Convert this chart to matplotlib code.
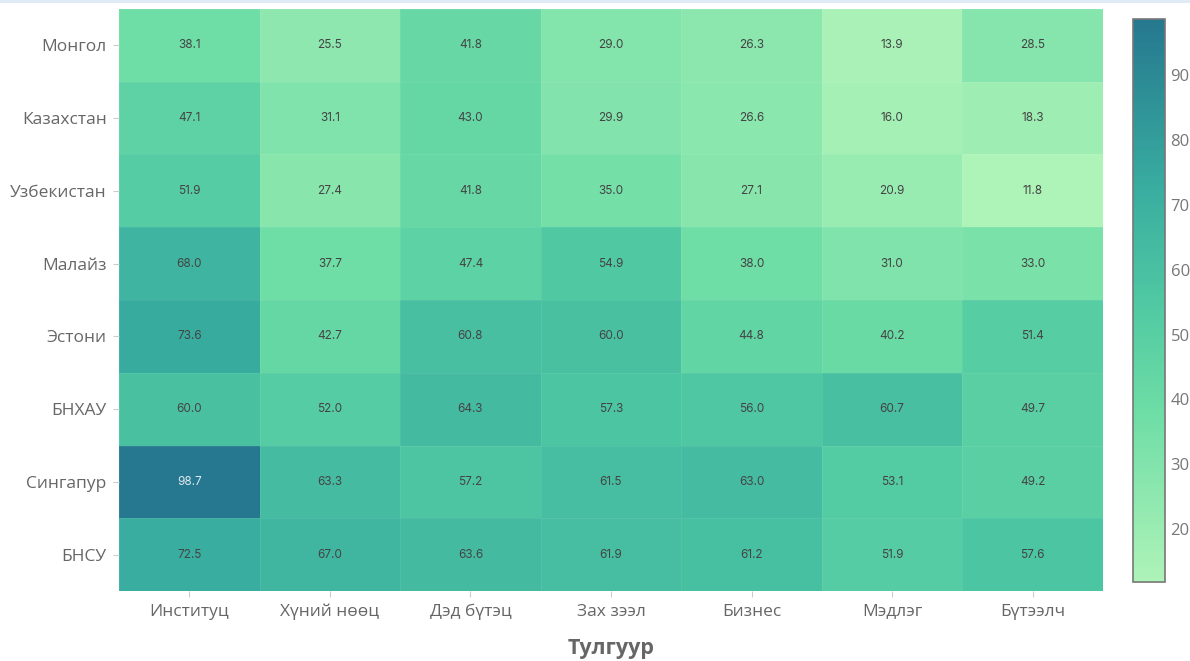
import numpy as np
import matplotlib
matplotlib.use("Agg")
import matplotlib.pyplot as plt
from matplotlib.colors import LinearSegmentedColormap
from matplotlib.lines import Line2D

# өгөгдөл
countries = ["Монгол", "Казахстан", "Узбекистан", "Малайз", "Эстони", "БНХАУ", "Сингапур", "БНСУ"]
pillars = ["Институц", "Хүний нөөц", "Дэд бүтэц", "Зах зээл", "Бизнес", "Мэдлэг", "Бүтээлч"]

mongol = [38.1, 25.5, 41.8, 29.0, 26.3, 13.9, 28.5]
kazakh = [47.1, 31.1, 43.0, 29.9, 26.6, 16.0, 18.3]
uzbek = [51.9, 27.4, 41.8, 35.0, 27.1, 20.9, 11.8]
malay = [68.0, 37.7, 47.4, 54.9, 38.0, 31.0, 33.0]
eston = [73.6, 42.7, 60.8, 60.0, 44.8, 40.2, 51.4]
china = [60.0, 52.0, 64.3, 57.3, 56.0, 60.7, 49.7]
singa = [98.7, 63.3, 57.2, 61.5, 63.0, 53.1, 49.2]
korea = [72.5, 67.0, 63.6, 61.9, 61.2, 51.9, 57.6]

data = np.array([mongol, kazakh, uzbek, malay, eston, china, singa, korea])

cmap = LinearSegmentedColormap.from_list(
    "grn", [(0.0, "#aef3b8"), (0.3, "#6edda6"), (0.5, "#4fc8a2"),
            (0.7, "#39ada0"), (1.0, "#25788f")])

plt.rcParams['font.family'] = ['Open Sans', 'DejaVu Sans']
fig = plt.figure(figsize=(11.9, 6.61), dpi=100)
ax = fig.add_axes([119/1190, 1 - 591/661, (1103-119)/1190, (591-9)/661])
cax = fig.add_axes([1133/1190, 1 - 582/661, 32/1190, (582-19)/661])

vmin, vmax = data.min(), data.max()
mesh = ax.pcolormesh(data, cmap=cmap, vmin=vmin, vmax=vmax,
                     edgecolors=(1, 1, 1, 0.07), linewidth=0.6)
ax.set_xlim(0, len(pillars))
ax.set_ylim(len(countries), 0)

# тоон утгууд
for i in range(len(countries)):
    for j in range(len(pillars)):
        v = data[i, j]
        c = "#dfe8ee" if v > 85 else "#444444"
        ax.text(j + 0.5, i + 0.5, f"{v:.1f}", ha="center", va="center",
                fontsize=8.5, color=c, family=["Inter", "DejaVu Sans"])

ax.set_xticks(np.arange(len(pillars)) + 0.5)
ax.set_xticklabels(pillars, fontsize=12.5, color="#666666")
ax.set_yticks(np.arange(len(countries)) + 0.5)
ax.set_yticklabels(countries, fontsize=12.5, color="#666666")
ax.tick_params(length=4, width=0.8, color="#cccccc", pad=5)
for s in ax.spines.values():
    s.set_visible(False)
ax.set_xlabel("Тулгуур", fontsize=15.5, fontweight="bold", color="#666666", labelpad=13)

cb = fig.colorbar(mesh, cax=cax)
cb.set_ticks([20, 30, 40, 50, 60, 70, 80, 90])
cb.ax.tick_params(length=0, labelsize=12, labelcolor="#777777", pad=4)
cb.outline.set_edgecolor("#777777")
cb.outline.set_linewidth(1.2)

fig.add_artist(Line2D([0, 1], [0.998, 0.998], color="#dde9f5", linewidth=2))

fig.savefig("out.png", dpi=100)
